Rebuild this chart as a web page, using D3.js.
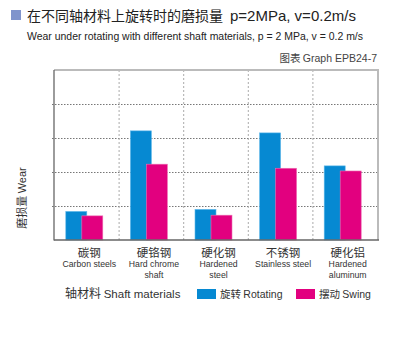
<!DOCTYPE html>
<html>
<head>
<meta charset="utf-8">
<script src="https://cdn.jsdelivr.net/npm/d3@7"></script>
<style>
  body { margin: 0; background: #fff; }
  svg { display: block; }
  .cn { font-family: "Noto Sans CJK SC", sans-serif; }
  .en { font-family: "Liberation Sans", Arial, sans-serif; }
</style>
</head>
<body>
<svg id="chart" width="400" height="360"></svg>
<script>

// data
let categories_cn = ["碳钢", "硬铬钢", "硬化钢", "不锈钢", "硬化铝"];
let categories_en = [["Carbon steels"], ["Hard chrome", "shaft"], ["Hardened", "steel"], ["Stainless steel"], ["Hardened", "aluminum"]];
let rotating = [0.84, 3.21, 0.90, 3.15, 2.18];
let swing    = [0.71, 2.23, 0.73, 2.11, 2.03];
let y_ticks  = [1, 2, 3, 4, 5];

let chart = d3.select("#chart");

let plot_left = 54, plot_right = 377, plot_top = 70, plot_bottom = 240;

// scales
let x = d3.scaleBand()
    .domain(d3.range(categories_cn.length))
    .range([plot_left, plot_right]);

let y = d3.scaleLinear()
    .domain([0, 5])
    .range([plot_bottom, plot_top]);

// title
chart.append("rect")
    .attr("x", 11).attr("y", 10).attr("width", 10).attr("height", 10)
    .attr("fill", "#8094cc");

let title = chart.append("text")
    .attr("x", 27).attr("y", 21)
    .attr("fill", "#222")
    .style("font-size", "14px");
title.append("tspan").attr("class", "cn").text("在不同轴材料上旋转时的磨损量");
title.append("tspan").attr("class", "en").attr("dx", 7)
    .style("font-size", "15px")
    .text("p=2MPa, v=0.2m/s");

chart.append("text")
    .attr("class", "en")
    .attr("x", 27).attr("y", 40)
    .attr("fill", "#222")
    .style("font-size", "11.5px")
    .attr("textLength", 336)
    .attr("lengthAdjust", "spacingAndGlyphs")
    .text("Wear under rotating with different shaft materials, p = 2 MPa, v = 0.2 m/s");

let graph = chart.append("text")
    .attr("x", 377).attr("y", 62)
    .attr("text-anchor", "end")
    .attr("fill", "#444")
    .style("font-size", "10.5px");
graph.append("tspan").attr("class", "cn").text("图表 ");
graph.append("tspan").attr("class", "en").text("Graph EPB24-7");

// gridlines
chart.append("g")
    .selectAll("line")
    .data(y_ticks.slice(0, 4))
    .join("line")
    .attr("x1", plot_left - 2).attr("x2", plot_right)
    .attr("y1", d => y(d) + 0.5).attr("y2", d => y(d) + 0.5)
    .attr("stroke", "#777")
    .attr("stroke-dasharray", "1.5,1.5");

chart.append("g")
    .selectAll("line")
    .data(d3.range(1, categories_cn.length))
    .join("line")
    .attr("x1", d => x(d) + 0.5).attr("x2", d => x(d) + 0.5)
    .attr("y1", plot_top).attr("y2", plot_bottom)
    .attr("stroke", "#aaa")
    .attr("stroke-dasharray", "2,2");

// bars
let bw = 21, shift = 16;
chart.append("g")
    .selectAll("rect")
    .data(rotating)
    .join("rect")
    .attr("x", (d, i) => x(i) + x.bandwidth() / 2 - 2 - (bw + shift) / 2)
    .attr("y", d => y(d))
    .attr("width", bw)
    .attr("height", d => y(0) - y(d))
    .attr("fill", "#0689d2")
    .attr("stroke", "#5fb8ea")
    .attr("stroke-width", 0.6);

chart.append("g")
    .selectAll("rect")
    .data(swing)
    .join("rect")
    .attr("x", (d, i) => x(i) + x.bandwidth() / 2 - 2 - (bw + shift) / 2 + shift)
    .attr("y", d => y(d))
    .attr("width", bw)
    .attr("height", d => y(0) - y(d))
    .attr("fill", "#e2007f")
    .attr("stroke", "#ee6fb3")
    .attr("stroke-width", 0.6);

// frame
chart.append("line")
    .attr("x1", plot_left).attr("x2", plot_right + 2)
    .attr("y1", plot_top).attr("y2", plot_top)
    .attr("stroke", "#bbb").attr("stroke-width", 2);
chart.append("line")
    .attr("x1", plot_right + 1).attr("x2", plot_right + 1)
    .attr("y1", plot_top - 1).attr("y2", plot_bottom)
    .attr("stroke", "#bbb").attr("stroke-width", 2);
chart.append("line")
    .attr("x1", plot_left).attr("x2", plot_left)
    .attr("y1", plot_top).attr("y2", plot_bottom + 0.5)
    .attr("stroke", "#666").attr("stroke-width", 1.3);
chart.append("line")
    .attr("x1", plot_left).attr("x2", plot_right + 2)
    .attr("y1", plot_bottom).attr("y2", plot_bottom)
    .attr("stroke", "#666").attr("stroke-width", 1.3);

// y axis label
let ylab = chart.append("text")
    .attr("transform", "translate(26,198) rotate(-90)")
    .attr("text-anchor", "middle")
    .attr("fill", "#333")
    .style("font-size", "11px");
ylab.append("tspan").attr("class", "cn").text("磨损量 ");
ylab.append("tspan").attr("class", "en").text("Wear");

// category labels
let labels = chart.append("g")
    .selectAll("g")
    .data(categories_cn)
    .join("g")
    .attr("transform", (d, i) => "translate(" + (x(i) + x.bandwidth() / 2 + 3) + ",0)");

labels.append("text")
    .attr("class", "cn")
    .attr("y", 257)
    .attr("text-anchor", "middle")
    .attr("fill", "#333")
    .style("font-size", "11.5px")
    .text(d => d);

labels.each(function (d, i) {
    d3.select(this).selectAll("text.en")
        .data(categories_en[i])
        .join("text")
        .attr("class", "en")
        .attr("y", (t, j) => 267 + j * 11)
        .attr("text-anchor", "middle")
        .attr("fill", "#333")
        .style("font-size", "8.7px")
        .text(t => t);
});

// legend
let axname = chart.append("text")
    .attr("x", 65).attr("y", 298)
    .attr("fill", "#333")
    .style("font-size", "12px");
axname.append("tspan").attr("class", "cn").text("轴材料 ");
axname.append("tspan").attr("class", "en").style("font-size", "11.5px").text("Shaft materials");

let legend = [
    { cn: "旋转 ", en: "Rotating", color: "#0689d2", x: 197 },
    { cn: "摆动 ", en: "Swing", color: "#e2007f", x: 296 }
];
legend.forEach(l => {
    chart.append("rect")
        .attr("x", l.x).attr("y", 289).attr("width", 19).attr("height", 10)
        .attr("fill", l.color);
    let t = chart.append("text")
        .attr("x", l.x + 23).attr("y", 298)
        .attr("fill", "#333")
        .style("font-size", "10.5px");
    t.append("tspan").attr("class", "cn").text(l.cn);
    t.append("tspan").attr("class", "en").style("font-size", "10.5px").text(l.en);
});

</script>
</body>
</html>
